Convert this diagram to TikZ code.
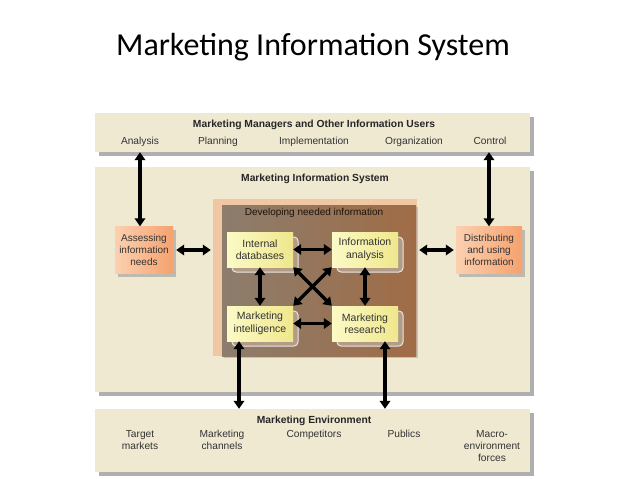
\documentclass[tikz,border=0pt]{standalone}
\usepackage{fontspec}
\setmainfont{Liberation Sans}
\newfontfamily\titlefont{Carlito}
\usetikzlibrary{arrows.meta,calc,shadows}
\definecolor{bandc}{HTML}{EFE9D2}
\definecolor{shadowc}{HTML}{9C9C9C}
\definecolor{txtc}{HTML}{333333}
\definecolor{peachc}{HTML}{F1C6A2}
\definecolor{brownL}{HTML}{8C7D6D}
\definecolor{brownR}{HTML}{A06C46}
\definecolor{yelL}{HTML}{FCFAC6}
\definecolor{yelR}{HTML}{EFE78C}
\definecolor{orL}{HTML}{FBD0B0}
\definecolor{orR}{HTML}{F5A26E}
\definecolor{boxsh}{HTML}{B29C88}
\begin{document}
\begin{tikzpicture}[x=1pt,y=-1pt,
  band/.style={fill=bandc, draw=none, drop shadow={shadow xshift=4pt, shadow yshift=-4pt, fill=shadowc, opacity=.8}},
  lab/.style={text=txtc, font=\fontsize{10.2}{12}\selectfont, align=center, inner sep=0pt},
  head/.style={text=black!85, font=\fontsize{10.3}{12}\selectfont\bfseries, inner sep=0pt},
  ybox/.style={left color=yelL, right color=yelR, draw=none, minimum width=66, minimum height=35, inner sep=0pt, align=center, text=txtc, font=\fontsize{10.5}{12.5}\selectfont},
  ysh/.style={fill=boxsh, draw=white!75!boxsh, line width=1pt, rounded corners=4pt, minimum width=66, minimum height=35},
  obox/.style={left color=orL, right color=orR, draw=none, inner sep=0pt, align=center, text=txtc, font=\fontsize{10}{12}\selectfont, minimum height=47, drop shadow={shadow xshift=3pt, shadow yshift=-3pt, fill=shadowc, opacity=.6}},
  arr/.style={{Triangle[length=8pt,width=10.5pt]}-{Triangle[length=8pt,width=10.5pt]}, line width=3.2pt, black}
]
\useasboundingbox (0,0) rectangle (638,479);
\fill[white] (0,0) rectangle (638,479);

% title
\node[font=\titlefont\fontsize{32}{36}\selectfont, text=black] (title) at (313,47) {Marketing Information System};

% bands
\node[band, minimum width=435, minimum height=39] (top) at (312.5,132.5) {};
\node[band, minimum width=435, minimum height=225] (mid) at (312.5,279.5) {};
\node[band, minimum width=435, minimum height=63] (env) at (312.5,440.5) {};

% top band texts
\node[head] (tophead) at (314,125) {Marketing Managers and Other Information Users};
\node[lab, anchor=base] (an) at (140,144) {Analysis};
\node[lab, anchor=base] (pl) at (218,144) {Planning};
\node[lab, anchor=base] (im) at (314,144) {Implementation};
\node[lab, anchor=base] (org) at (414,144) {Organization};
\node[lab, anchor=base] (co) at (490,144) {Control};

% middle band title
\node[head] (midhead) at (315,179) {Marketing Information System};

% developing box
\node[fill=peachc, draw=none, minimum width=204, minimum height=157, inner sep=0pt] (devout) at (315,277.5) {};
\node[left color=brownL, right color=brownR, draw=none, minimum width=194, minimum height=151, inner sep=0pt,
      drop shadow={shadow xshift=2pt, shadow yshift=-2pt, fill=shadowc, opacity=.5}] (dev) at (319,280.5) {};
\node[text=black!85!brown, font=\fontsize{10}{12}\selectfont, inner sep=0pt] (devhead) at (314,213) {Developing needed information};

% inner box shadows
\node[ysh] (s1) at (265,254.5) {};
\node[ysh] (s2) at (370,254.5) {};
\node[ysh] (s3) at (265,328.5) {};
\node[ysh] (s4) at (370,328.5) {};

% inner boxes
\node[ybox] (idb) at (260,249.5) {Internal\\databases};
\node[ybox] (ian) at (365,249.5) {Information\\analysis};
\node[ybox] (mi) at (260,323.5) {Marketing\\intelligence};
\node[ybox] (mr) at (365,323.5) {Marketing\\research};

% side boxes
\node[obox, minimum width=58] (ass) at (144,250) {Assessing\\information\\needs};
\node[obox, minimum width=66] (dis) at (489,250) {Distributing\\and using\\information};

% environment texts
\node[head] (envhead) at (314,421) {Marketing Environment};
\node[lab, anchor=north] (tm) at (140,430) {Target\\markets};
\node[lab, anchor=north] (mc) at (222,430) {Marketing\\channels};
\node[lab, anchor=north] (cp) at (314,430) {Competitors};
\node[lab, anchor=north] (pu) at (404,430) {Publics};
\node[lab, anchor=north] (ma) at (492,430) {Macro-\\environment\\forces};

% connectors
\coordinate (a1) at (an |- top.south);
\coordinate (a2) at (an |- ass.north);
\draw[arr] (a1) -- (a2);
\coordinate (c1) at (dis |- top.south);
\draw[arr] (c1) -- (dis.north);
\coordinate (d1) at ($(ass.east)+(3,0)$);
\coordinate (d2) at ($(devout.west |- ass.east)+(-2,0)$);
\draw[arr] (d1) -- (d2);
\coordinate (d3) at ($(dis.west)+(-2,0)$);
\coordinate (d4) at ($(devout.east |- dis.west)+(2,0)$);
\draw[arr] (d3) -- (d4);
\draw[arr] (idb.east) -- (ian.west);
\draw[arr] (mi.east) -- (mr.west);
\draw[arr] (idb.south) -- (mi.north);
\draw[arr] (ian.south) -- (mr.north);
\draw[arr] (idb.south east) -- (mr.north west);
\draw[arr] (ian.south west) -- (mi.north east);
\coordinate (b1) at ($(mi.south)+(-21,0)$);
\coordinate (b2) at (b1 |- env.north);
\draw[arr] (b1) -- (b2);
\coordinate (b3) at ($(mr.south)+(20,0)$);
\coordinate (b4) at (b3 |- env.north);
\draw[arr] (b3) -- (b4);
\end{tikzpicture}
\end{document}
